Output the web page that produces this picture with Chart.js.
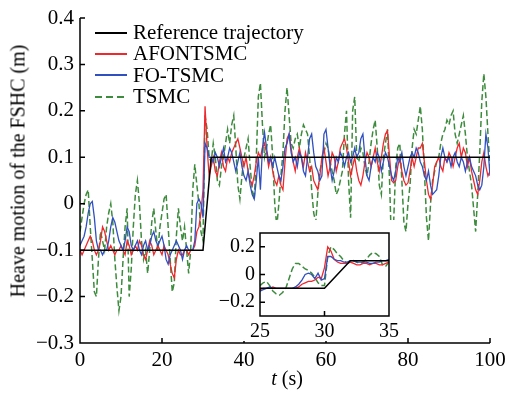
<!DOCTYPE html>
<html lang="en">
<head>
<meta charset="UTF-8" />
<title>Heave motion of the FSHC</title>
<script src="https://cdn.jsdelivr.net/npm/chart.js"></script>
<style>
  body { margin: 0; background: #fff; overflow: hidden; }
  #wrap { position: relative; width: 507px; height: 394px; font-family: "Liberation Serif", "DejaVu Serif", serif; color: #000; }
  #main { position: absolute; left: 0; top: 0; }
  #inset { position: absolute; left: 218px; top: 220px; background: #fff; }
  .legend { position: absolute; left: 95px; top: 22px; font-size: 21px; }
  .legend .row { display: flex; align-items: center; height: 21.3px; }
  .legend .ln { width: 32px; height: 2px; margin-right: 6px; }
  .legend .dash { width: 32px; height: 2px; margin-right: 6px;
    background: repeating-linear-gradient(90deg, #3d8b3d 0 7px, transparent 7px 11px); }
  .xtitle { position: absolute; left: 187px; width: 200px; top: 367px; text-align: center; font-size: 20px; }
  .ytitle { position: absolute; left: 18px; top: 171px; font-size: 20px; white-space: nowrap;
    transform: translate(-50%, -50%) rotate(-90deg); }
</style>
</head>
<body>
<div id="wrap">
  <canvas id="main" width="507" height="394"></canvas>
  <canvas id="inset" width="182" height="121"></canvas>
  <div class="legend">
    <div class="row"><span class="ln" style="background:#000000"></span>Reference trajectory</div>
    <div class="row"><span class="ln" style="background:#f0282d"></span>AFONTSMC</div>
    <div class="row"><span class="ln" style="background:#3050c0"></span>FO-TSMC</div>
    <div class="row"><span class="dash"></span>TSMC</div>
  </div>
  <div class="xtitle"><i>t</i> (s)</div>
  <div class="ytitle">Heave motion of the FSHC (m)</div>
</div>
<script>
// main plot: samples every 0.5 s from 0 to 100 s
const timeStep = 0.5;
const refTime = [0, 30, 32, 100];
const refValue = [-0.1, -0.1, 0.1, 0.1];

const afontsmc = [
  -0.1,-0.11,-0.1,-0.09,-0.08,-0.07,-0.08,-0.1,-0.11,-0.1,-0.08,-0.05,-0.06,-0.08,-0.1,-0.09,-0.1,-0.11,-0.1,-0.1,
  -0.09,-0.1,-0.11,-0.08,-0.09,-0.11,-0.1,-0.09,-0.1,-0.08,-0.09,-0.11,-0.12,-0.1,-0.08,-0.09,-0.11,-0.1,-0.09,-0.1,
  -0.11,-0.09,-0.1,-0.11,-0.13,-0.15,-0.16,-0.12,-0.1,-0.11,-0.11,-0.1,-0.1,-0.11,-0.1,-0.1,-0.09,-0.06,-0.05,-0.02,
  0.03,0.21,0.12,0.06,0.08,0.1,0.07,0.06,0.09,0.11,0.08,0.07,0.1,0.09,0.11,0.12,0.13,0.14,0.12,0.1,
  0.08,0.1,0.07,0.05,0.04,0.06,0.09,0.11,0.1,0.12,0.13,0.11,0.08,0.1,0.07,0.05,0.04,0.06,0.04,0.03,
  0.09,0.14,0.15,0.12,0.09,0.07,0.1,0.12,0.1,0.08,0.11,0.09,0.07,0.08,0.05,0.04,0.03,0.06,0.1,0.12,
  0.09,0.06,0.08,0.11,0.1,0.07,0.09,0.12,0.13,0.14,0.12,0.09,0.06,0.08,0.1,0.07,0.05,0.04,0.06,0.09,
  0.11,0.1,0.08,0.1,0.12,0.09,0.07,0.1,0.13,0.15,0.157,0.1,0.05,0.045,0.05,0.08,0.1,0.07,0.05,0.04,
  0.045,0.07,0.1,0.08,0.1,0.12,0.12,0.13,0.09,0.05,0.02,0.01,0.04,0.08,0.09,0.1,0.08,0.07,0.1,0.09,
  0.11,0.1,0.08,0.1,0.12,0.13,0.1,0.12,0.11,0.08,0.1,0.07,0.05,0.03,0.02,0.05,0.09,0.11,0.08,0.06,
  0.07
];

const foTsmc = [
  -0.09,-0.08,-0.07,-0.05,-0.02,0.0,0.005,-0.03,-0.08,-0.1,-0.1,-0.11,-0.1,-0.1,-0.08,-0.05,-0.03,-0.04,-0.06,-0.08,
  -0.09,-0.1,-0.08,-0.05,-0.06,-0.09,-0.1,-0.09,-0.08,-0.1,-0.11,-0.09,-0.08,-0.1,-0.09,-0.07,-0.06,-0.08,-0.09,-0.08,
  -0.07,-0.09,-0.12,-0.13,-0.11,-0.1,-0.09,-0.08,-0.09,-0.1,-0.12,-0.1,-0.09,-0.1,-0.1,-0.1,-0.08,0.0,0.01,0.0,
  -0.03,0.13,0.12,0.1,0.1,0.09,0.11,0.1,0.08,0.1,0.12,0.09,0.1,0.12,0.11,0.09,0.07,0.09,0.11,0.08,
  0.06,0.05,0.07,0.04,0.02,0.01,0.05,0.1,0.03,0.12,0.154,0.12,0.09,0.1,0.08,0.1,0.08,0.06,0.05,0.08,
  0.12,0.13,0.15,0.11,0.09,0.1,0.08,0.11,0.1,0.07,0.06,0.1,0.14,0.15,0.11,0.08,0.07,0.05,0.06,0.15,
  0.16,0.12,0.08,0.05,0.07,0.1,0.09,0.11,0.1,0.08,0.1,0.11,0.09,0.1,0.12,0.1,0.11,0.14,0.15,0.1,
  0.06,0.05,0.08,0.1,0.09,0.11,0.1,0.07,0.09,0.11,0.1,0.08,0.06,0.05,0.07,0.1,0.09,0.11,0.08,0.06,
  0.08,0.1,0.11,0.1,0.12,0.11,0.09,0.08,0.06,0.05,0.07,0.04,0.02,0.025,0.03,0.06,0.1,0.12,0.1,0.09,
  0.1,0.08,0.1,0.11,0.09,0.08,0.1,0.09,0.07,0.09,0.1,0.08,0.07,0.06,0.04,0.03,0.04,0.08,0.15,0.12,
  0.06
];

const tsmc = [
  -0.06,-0.03,0.0,0.02,0.03,-0.05,-0.12,-0.19,-0.2,-0.12,-0.06,-0.08,-0.1,-0.05,-0.02,0.0,-0.04,-0.12,-0.18,-0.23,
  -0.2,-0.12,-0.05,-0.01,-0.2,-0.14,-0.05,0.02,0.05,0.0,-0.08,-0.12,-0.1,-0.15,-0.1,-0.04,-0.01,-0.06,-0.1,-0.05,
  -0.02,0.01,0.02,-0.05,-0.12,-0.19,-0.17,-0.07,-0.01,-0.05,-0.08,-0.05,-0.1,-0.15,-0.1,0.03,0.085,0.04,0.0,-0.06,
  -0.08,0.19,0.16,0.1,0.09,0.13,0.1,0.05,0.04,0.08,0.1,0.13,0.16,0.13,0.17,0.19,0.12,0.04,0.01,0.06,
  0.1,0.12,0.14,0.08,0.03,0.01,0.1,0.23,0.26,0.17,0.1,0.12,0.15,0.17,0.1,0.0,-0.05,0.0,0.06,0.11,
  0.2,0.25,0.19,0.13,0.12,0.14,0.15,0.12,0.15,0.17,0.16,0.15,0.1,0.03,-0.02,-0.04,0.02,0.07,0.09,0.11,
  0.13,0.12,0.09,0.07,0.05,0.02,0.03,0.05,0.07,0.15,0.2,0.05,-0.03,0.2,0.23,0.1,0.09,0.12,0.11,0.08,
  0.06,0.09,0.13,0.16,0.18,0.12,0.04,0.02,0.1,0.13,0.16,0.05,-0.1,-0.04,0.08,0.12,0.13,0.05,-0.04,-0.06,
  0.0,0.04,0.12,0.16,0.15,0.18,0.21,0.16,0.07,-0.03,-0.08,0.0,0.05,0.07,0.09,0.1,0.13,0.15,0.16,0.18,
  0.17,0.19,0.2,0.15,0.13,0.15,0.17,0.19,0.15,0.1,0.07,0.04,-0.01,-0.06,0.02,0.11,0.22,0.28,0.23,0.15,
  0.08
];

// inset: samples every 0.25 s from 25 to 35 s
const insetStart = 25;
const insetStep = 0.25;
const insetAfontsmc = [
  -0.11,-0.1,-0.1,-0.1,-0.09,-0.1,-0.1,-0.1,-0.1,-0.1,-0.1,-0.1,-0.09,-0.07,-0.06,-0.05,-0.05,-0.04,-0.02,-0.03,
  0.05,0.2,0.17,0.11,0.09,0.08,0.08,0.08,0.09,0.08,0.07,0.07,0.08,0.08,0.07,0.08,0.08,0.07,0.07,0.08,0.09
];
const insetFoTsmc = [
  -0.12,-0.11,-0.1,-0.09,-0.1,-0.1,-0.1,-0.1,-0.1,-0.1,-0.1,-0.09,-0.07,-0.04,0.0,0.01,0.0,-0.03,0.01,-0.04,
  -0.03,0.13,0.13,0.11,0.1,0.1,0.09,0.09,0.1,0.1,0.09,0.09,0.09,0.09,0.08,0.08,0.09,0.09,0.1,0.1,0.11
];
const insetTsmc = [
  -0.08,-0.06,-0.05,-0.08,-0.12,-0.14,-0.15,-0.13,-0.1,-0.03,0.04,0.08,0.08,0.06,0.04,0.03,0.01,-0.02,-0.06,-0.08,
  -0.08,0.13,0.2,0.18,0.15,0.13,0.1,0.08,0.09,0.1,0.09,0.08,0.09,0.11,0.14,0.16,0.15,0.13,0.07,0.06,0.09
];

const mainXTicks = [0, 20, 40, 60, 80, 100];
const mainYTicks = [-0.3, -0.2, -0.1, 0, 0.1, 0.2, 0.3, 0.4];
const insetXTicks = [25, 30, 35];
const insetYTicks = [-0.2, 0, 0.2];

const serif = '"Liberation Serif", "DejaVu Serif", serif';

function toPoints(values, start, step) {
  return values.map((v, i) => ({ x: start + i * step, y: v }));
}

function fmt(v) {
  const r = Math.round(v * 10) / 10;
  if (r === 0) return '0';
  return (r < 0 ? '\u2212' : '') + Math.abs(r).toString();
}

// axis lines, inward tick marks, optional full box
function axesPlugin(box, tickLen) {
  return {
    id: 'axesLines',
    afterDraw(chart) {
      const { ctx, chartArea: a } = chart;
      const xs = chart.scales.x, ys = chart.scales.y;
      ctx.save();
      ctx.strokeStyle = '#000';
      ctx.lineWidth = 1.5;
      ctx.beginPath();
      if (box) {
        ctx.rect(a.left, a.top, a.right - a.left, a.bottom - a.top);
      } else {
        ctx.moveTo(a.left, a.top);
        ctx.lineTo(a.left, a.bottom);
        ctx.lineTo(a.right, a.bottom);
      }
      xs.ticks.forEach(t => {
        const px = xs.getPixelForValue(t.value);
        ctx.moveTo(px, a.bottom);
        ctx.lineTo(px, a.bottom - tickLen);
      });
      ys.ticks.forEach(t => {
        const py = ys.getPixelForValue(t.value);
        ctx.moveTo(a.left, py);
        ctx.lineTo(a.left + tickLen, py);
      });
      ctx.stroke();
      ctx.restore();
    }
  };
}

function seriesSets(red, blue, green, start, step) {
  return [
    { label: 'Reference trajectory', data: refTime.map((t, i) => ({ x: t, y: refValue[i] })),
      borderColor: '#000', borderWidth: 1.5, order: 0 },
    { label: 'FO-TSMC', data: toPoints(blue, start, step), borderColor: '#3050c0', borderWidth: 1.3, order: 1 },
    { label: 'AFONTSMC', data: toPoints(red, start, step), borderColor: '#f0282d', borderWidth: 1.3, order: 2 },
    { label: 'TSMC', data: toPoints(green, start, step), borderColor: '#3d8b3d', borderWidth: 1.5,
      borderDash: [6, 3], order: 3 }
  ];
}

// label offset is given by grid.tickLength (marks are not drawn), padding kept at 0
function scaleOpts(min, max, tickVals, fitSize, offset, size, isX) {
  return {
    type: 'linear', min, max,
    grid: { display: false, drawTicks: true, tickLength: offset },
    border: { display: false },
    afterBuildTicks: s => { s.ticks = tickVals.map(v => ({ value: v })); },
    afterFit: s => { if (isX) s.height = fitSize; else s.width = fitSize; },
    ticks: { color: '#000', font: { family: serif, size }, padding: 0, maxRotation: 0, autoSkip: false,
      callback: v => isX ? String(v) : fmt(v) }
  };
}

const common = {
  responsive: false,
  animation: false,
  events: [],
  elements: { point: { radius: 0 }, line: { tension: 0, fill: false } },
  plugins: { legend: { display: false }, tooltip: { enabled: false } }
};

new Chart(document.getElementById('main'), {
  type: 'line',
  data: { datasets: seriesSets(afontsmc, foTsmc, tsmc, 0, timeStep) },
  options: Object.assign({}, common, {
    layout: { padding: { top: 18, right: 17, left: 0, bottom: 0 } },
    scales: {
      x: scaleOpts(0, 100, mainXTicks, 51, 5, 21, true),
      y: scaleOpts(-0.3, 0.4, mainYTicks, 80, 6, 21, false)
    }
  }),
  plugins: [axesPlugin(false, 5)]
});

new Chart(document.getElementById('inset'), {
  type: 'line',
  data: { datasets: seriesSets(insetAfontsmc, insetFoTsmc, insetTsmc, insetStart, insetStep) },
  options: Object.assign({}, common, {
    layout: { padding: { top: 13, right: 11, left: 0, bottom: 0 } },
    scales: {
      x: scaleOpts(25, 35, insetXTicks, 25, 4, 20, true),
      y: scaleOpts(-0.3, 0.3, insetYTicks, 42, 5, 20, false)
    }
  }),
  plugins: [axesPlugin(true, 5)]
});
</script>
</body>
</html>
